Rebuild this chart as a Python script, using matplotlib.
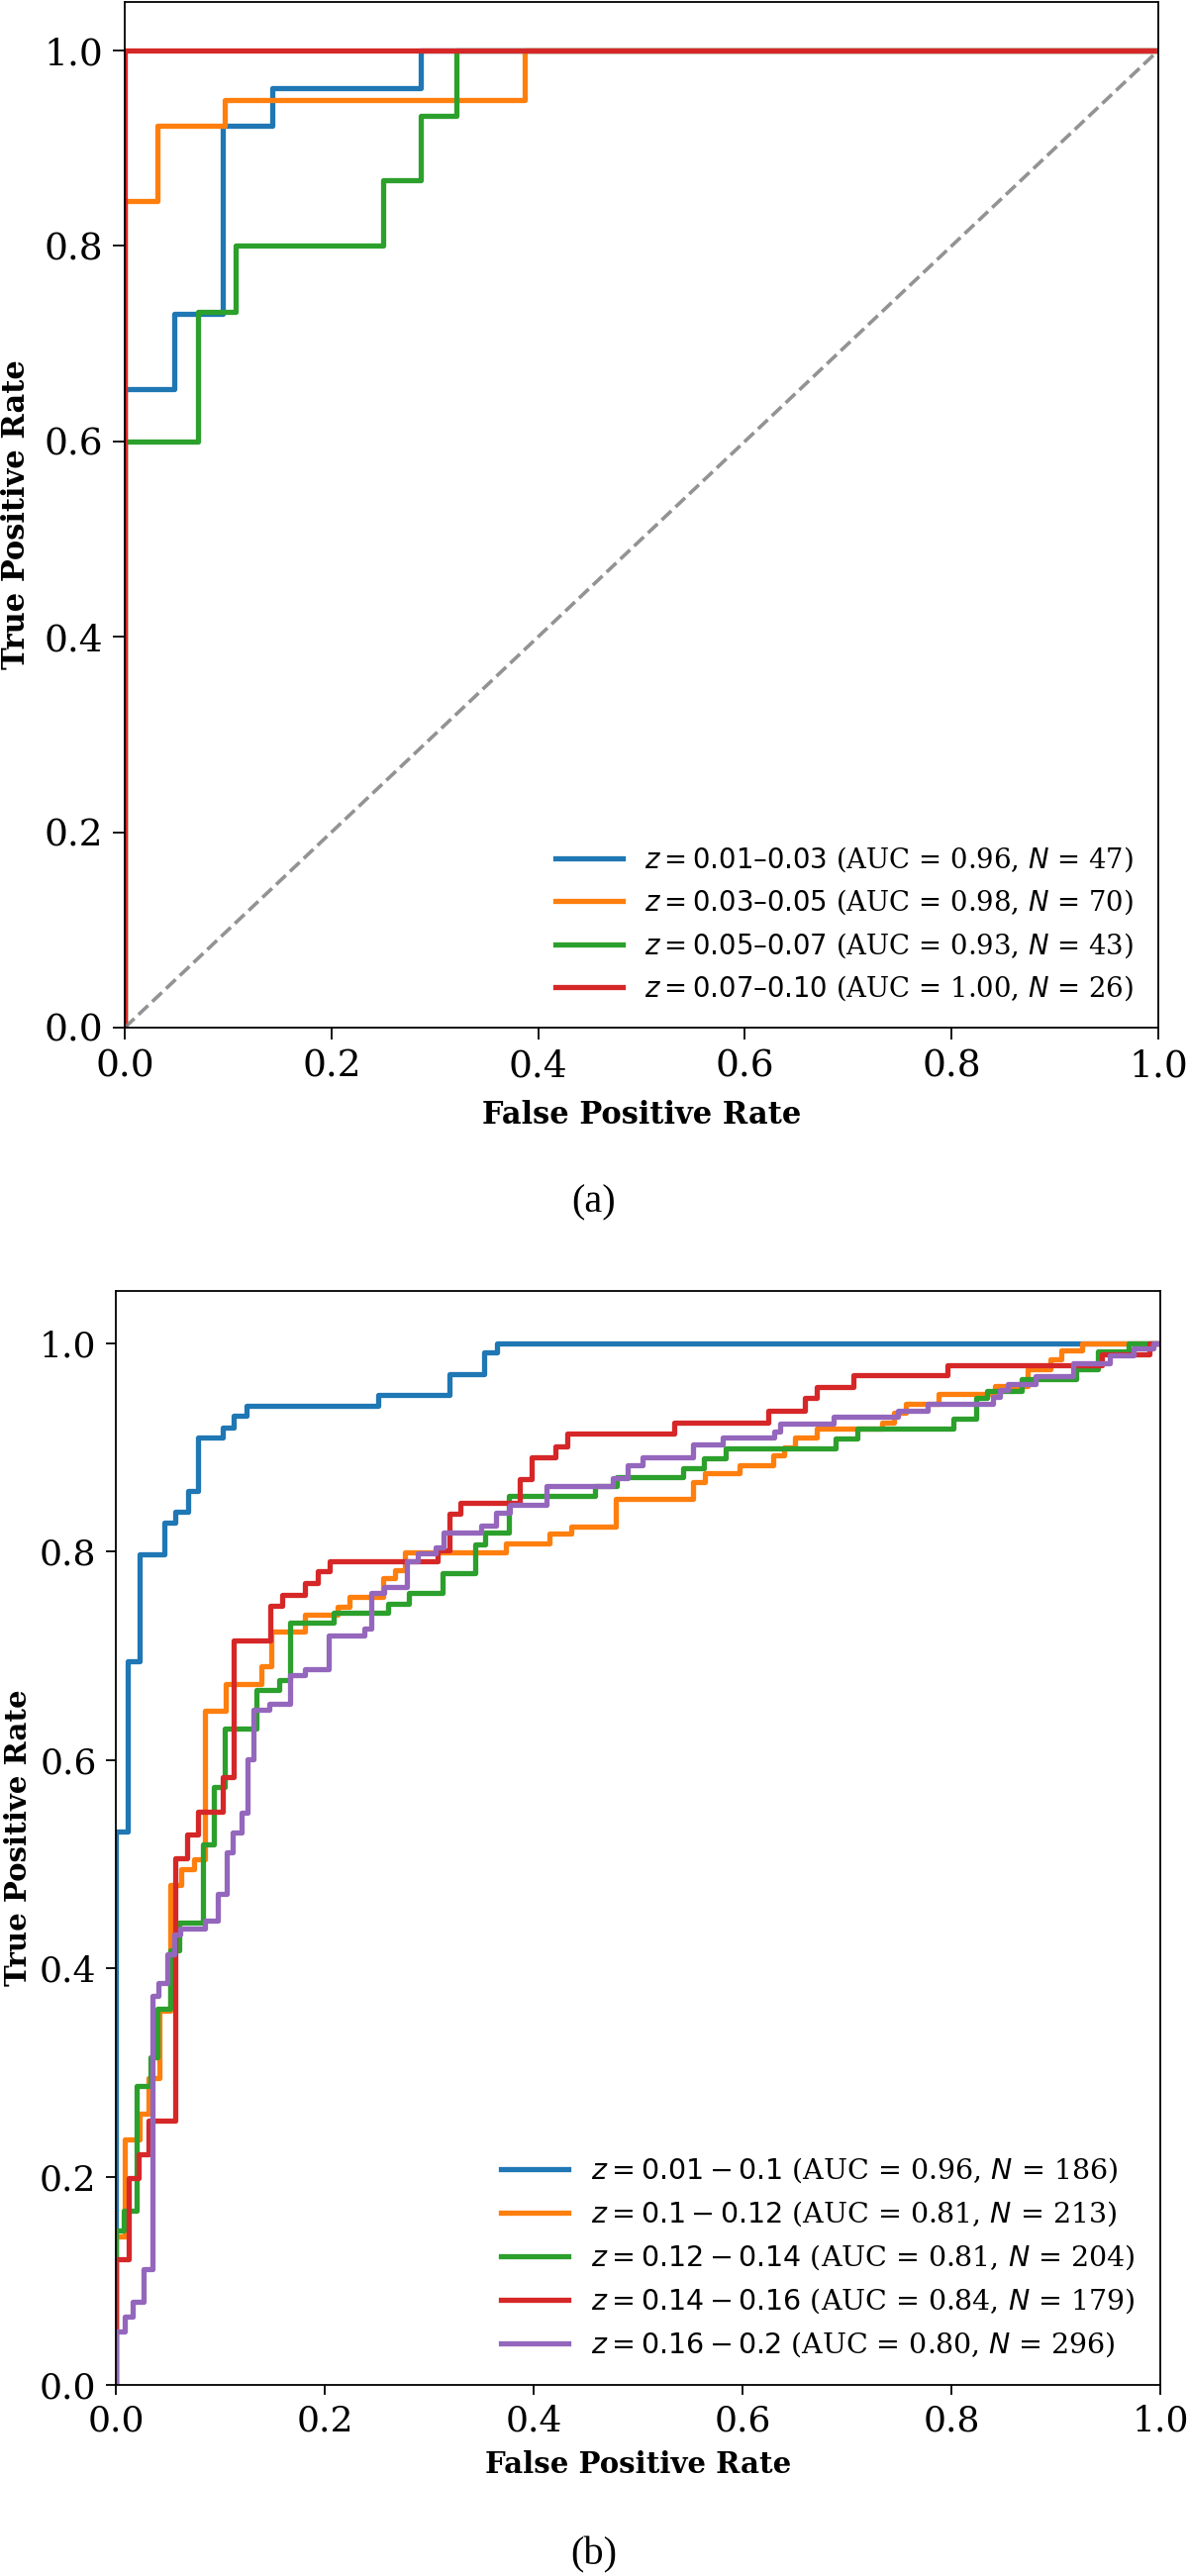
import numpy as np
import matplotlib
matplotlib.use("Agg")
import matplotlib.pyplot as plt

plt.rcParams['font.family'] = 'DejaVu Serif'
plt.rcParams['mathtext.fontset'] = 'dejavusans'

# --- panel (a): ROC curves per redshift bin (step vertices) ---
a_labels = [r"$z = 0.01$–$0.03$ (AUC = 0.96, $N$ = 47)",
            r"$z = 0.03$–$0.05$ (AUC = 0.98, $N$ = 70)",
            r"$z = 0.05$–$0.07$ (AUC = 0.93, $N$ = 43)",
            r"$z = 0.07$–$0.10$ (AUC = 1.00, $N$ = 26)"]
a_fpr_1 = [0, 0, 0.048, 0.095, 0.143, 0.286, 1.0]
a_tpr_1 = [0, 0.654, 0.731, 0.923, 0.962, 1.0, 1.0]
a_fpr_2 = [0, 0, 0.032, 0.097, 0.387, 1.0]
a_tpr_2 = [0, 0.846, 0.923, 0.949, 1.0, 1.0]
a_fpr_3 = [0, 0, 0.071, 0.107, 0.250, 0.286, 0.321, 1.0]
a_tpr_3 = [0, 0.600, 0.733, 0.800, 0.867, 0.933, 1.0, 1.0]
a_fpr_4 = [0, 0, 1.0]
a_tpr_4 = [0, 1.0, 1.0]

# --- panel (b) ---
b_labels = [r"$z = 0.01 - 0.1$ (AUC = 0.96, $N$ = 186)",
            r"$z = 0.1 - 0.12$ (AUC = 0.81, $N$ = 213)",
            r"$z = 0.12 - 0.14$ (AUC = 0.81, $N$ = 204)",
            r"$z = 0.14 - 0.16$ (AUC = 0.84, $N$ = 179)",
            r"$z = 0.16 - 0.2$ (AUC = 0.80, $N$ = 296)"]
b_fpr_1 = [0, 0, 0.011, 0.023, 0.046, 0.057, 0.069, 0.079, 0.102, 0.113,
           0.125, 0.251, 0.319, 0.353, 0.365, 1.0]
b_tpr_1 = [0, 0.531, 0.695, 0.797, 0.828, 0.838, 0.858, 0.909, 0.919, 0.930,
           0.940, 0.950, 0.970, 0.991, 1.0, 1.0]
b_fpr_2 = [0, 0, 0.009, 0.023, 0.031, 0.042, 0.052, 0.063, 0.075, 0.085,
           0.105, 0.139, 0.149, 0.181, 0.212, 0.224, 0.256, 0.267, 0.277, 0.373,
           0.415, 0.436, 0.479, 0.553, 0.564, 0.597, 0.629, 0.640, 0.650, 0.671,
           0.734, 0.745, 0.756, 0.788, 0.842, 0.873, 0.895, 0.905, 0.925, 1.0]
b_tpr_2 = [0, 0.143, 0.236, 0.260, 0.295, 0.359, 0.480, 0.495, 0.505, 0.647,
           0.673, 0.690, 0.723, 0.739, 0.747, 0.756, 0.774, 0.782, 0.799, 0.808,
           0.817, 0.824, 0.850, 0.867, 0.875, 0.883, 0.892, 0.900, 0.909, 0.918,
           0.924, 0.933, 0.942, 0.951, 0.959, 0.975, 0.984, 0.993, 1.0, 1.0]
b_fpr_3 = [0, 0, 0.008, 0.020, 0.033, 0.040, 0.052, 0.061, 0.083, 0.094,
           0.104, 0.135, 0.156, 0.167, 0.209, 0.261, 0.281, 0.313, 0.344, 0.354,
           0.376, 0.459, 0.480, 0.543, 0.563, 0.584, 0.689, 0.710, 0.802, 0.824,
           0.834, 0.867, 0.919, 0.940, 0.970, 1.0]
b_tpr_3 = [0, 0.148, 0.167, 0.287, 0.315, 0.361, 0.417, 0.444, 0.519, 0.574,
           0.630, 0.667, 0.677, 0.732, 0.741, 0.750, 0.760, 0.779, 0.807, 0.818,
           0.853, 0.863, 0.871, 0.880, 0.889, 0.899, 0.908, 0.918, 0.927, 0.947,
           0.954, 0.965, 0.975, 0.992, 1.0, 1.0]
b_fpr_4 = [0, 0, 0.012, 0.022, 0.031, 0.057, 0.068, 0.079, 0.102, 0.113,
           0.148, 0.159, 0.181, 0.193, 0.205, 0.308, 0.319, 0.330, 0.387, 0.398,
           0.421, 0.432, 0.535, 0.625, 0.660, 0.671, 0.706, 0.796, 0.944, 0.990, 1.0]
b_tpr_4 = [0, 0.121, 0.199, 0.221, 0.254, 0.506, 0.528, 0.550, 0.583, 0.715,
           0.748, 0.758, 0.770, 0.781, 0.791, 0.801, 0.836, 0.847, 0.869, 0.890,
           0.901, 0.913, 0.924, 0.935, 0.947, 0.958, 0.969, 0.979, 0.989, 1.0, 1.0]
b_fpr_5 = [0, 0, 0.0085, 0.016, 0.027, 0.035, 0.041, 0.049, 0.056, 0.062,
           0.085, 0.098, 0.106, 0.112, 0.120, 0.126, 0.132, 0.147, 0.167, 0.181,
           0.204, 0.238, 0.245, 0.257, 0.279, 0.289, 0.306, 0.314, 0.350, 0.364,
           0.377, 0.412, 0.476, 0.490, 0.504, 0.553, 0.581, 0.630, 0.636, 0.687,
           0.749, 0.777, 0.840, 0.846, 0.854, 0.881, 0.917, 0.952, 0.974, 0.993, 1.0]
b_tpr_5 = [0, 0.051, 0.066, 0.080, 0.111, 0.373, 0.386, 0.413, 0.432, 0.438,
           0.446, 0.471, 0.511, 0.530, 0.549, 0.601, 0.648, 0.654, 0.681, 0.687,
           0.719, 0.726, 0.760, 0.766, 0.791, 0.798, 0.804, 0.818, 0.825, 0.837,
           0.845, 0.863, 0.870, 0.883, 0.890, 0.903, 0.909, 0.915, 0.923, 0.929,
           0.935, 0.942, 0.948, 0.955, 0.961, 0.968, 0.981, 0.988, 0.995, 1.0, 1.0]

colors = ['#1f77b4', '#ff7f0e', '#2ca02c', '#d62728', '#9467bd']
LW = 3.8


def style_axes(ax, tick_size, tick_len, label_size):
    ax.set_xlim(0.0, 1.0)
    ax.set_ylim(0.0, 1.05)
    ax.set_xticks(np.arange(0, 1.01, 0.2))
    ax.set_yticks(np.arange(0, 1.01, 0.2))
    ax.tick_params(labelsize=tick_size, length=tick_len, width=1.3, pad=7)
    for s in ax.spines.values():
        s.set_linewidth(1.3)
    ax.set_xlabel("False Positive Rate", fontweight='bold', fontsize=label_size)
    ax.set_ylabel("True Positive Rate", fontweight='bold', fontsize=label_size)


fig = plt.figure(figsize=(12, 26.02), dpi=100)

# (a)
ax1 = fig.add_axes([0.105, 0.60108, 0.87, 0.39827])
a_fpr = [a_fpr_1, a_fpr_2, a_fpr_3, a_fpr_4]
a_tpr = [a_tpr_1, a_tpr_2, a_tpr_3, a_tpr_4]
for f, t, c, lab in zip(a_fpr, a_tpr, colors, a_labels):
    ax1.plot(f, t, drawstyle='steps-post', color=c, lw=LW, label=lab)
ax1.plot([0, 1], [0, 1], color='gray', linestyle='--', lw=2.6, alpha=0.85)
style_axes(ax1, 27, 8.5, 22)
ax1.legend(loc='lower right', frameon=False, fontsize=19.8, handlelength=2.5)
ax1.xaxis.set_label_coords(0.5, -0.07)
ax1.yaxis.set_label_coords(-0.09, 0.5)

# (b)
ax2 = fig.add_axes([0.0975, 0.07417, 0.87917, 0.42467])
b_fpr = [b_fpr_1, b_fpr_2, b_fpr_3, b_fpr_4, b_fpr_5]
b_tpr = [b_tpr_1, b_tpr_2, b_tpr_3, b_tpr_4, b_tpr_5]
for f, t, c, lab in zip(b_fpr, b_tpr, colors, b_labels):
    ax2.plot(f, t, drawstyle='steps-post', color=c, lw=LW, label=lab)
style_axes(ax2, 26, 7, 21)
ax2.legend(loc='lower right', frameon=False, fontsize=20.5, handlelength=2.4)
ax2.xaxis.set_label_coords(0.5, -0.06)
ax2.yaxis.set_label_coords(-0.08, 0.5)

fig.text(0.5, 1 - 1215 / 2602, "(a)", ha='center', va='center',
         family='Liberation Serif', fontsize=29)
fig.text(0.5, 1 - 2581 / 2602, "(b)", ha='center', va='center',
         family='Liberation Serif', fontsize=29)

fig.savefig("out.png", dpi=100)
